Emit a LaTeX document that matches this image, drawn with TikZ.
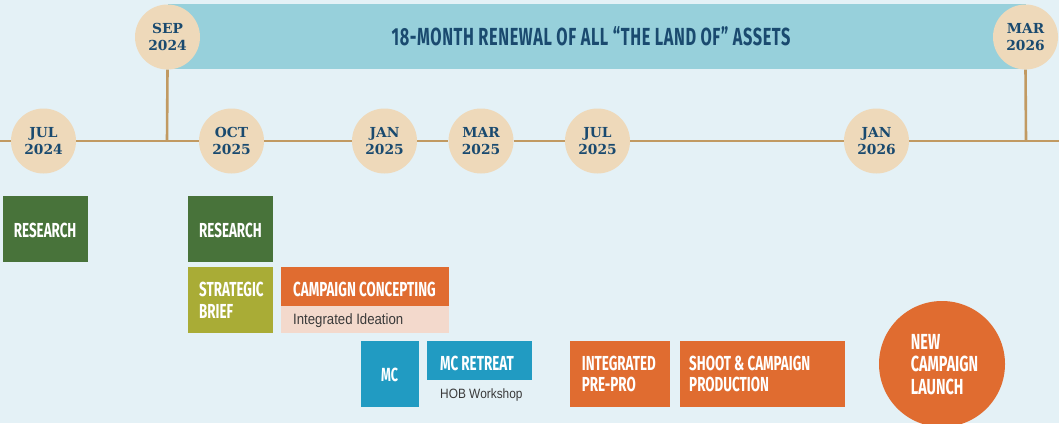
\documentclass[tikz,border=0pt]{standalone}
\usepackage{fontspec}
\newfontfamily\slabfont{DejaVu Serif}
\newfontfamily\headfont{Fira Sans}[FakeStretch=0.66]
\newfontfamily\bannerfont{Fira Sans}[FakeStretch=0.66, LetterSpace=2.5]
\newfontfamily\notefont{Liberation Sans}[FakeStretch=0.88]
\definecolor{bgblue}{HTML}{E4F1F6}
\definecolor{bannerblue}{HTML}{97D0DB}
\definecolor{navy}{HTML}{1A4A6F}
\definecolor{beige}{HTML}{EED9BA}
\definecolor{tan}{HTML}{C19A62}
\definecolor{leaf}{HTML}{48733A}
\definecolor{olive}{HTML}{A9AC36}
\definecolor{rust}{HTML}{E06C30}
\definecolor{blush}{HTML}{F3D9CC}
\definecolor{sky}{HTML}{219BC2}
\definecolor{ink}{HTML}{3A3A3A}
\tikzset{
  datecircle/.style={circle, fill=beige, minimum size=65pt, inner sep=0pt,
    text=navy, align=center, font={\slabfont\bfseries\fontsize{13.8}{16.8}\selectfont}},
  tline/.style={draw=tan, line width=2.6pt},
  taskbox/.style={rectangle, anchor=north west, inner sep=0pt},
  tasktext/.style={anchor=west, inner sep=0pt, text=white, align=left,
    font={\headfont\bfseries\fontsize{20.3}{21.3}\selectfont}},
  notetext/.style={anchor=base west, inner sep=0pt, text=ink}
}
\begin{document}
\begin{tikzpicture}[x=1pt, y=-1pt]
\useasboundingbox (0,0) rectangle (1059,423);
\clip (0,0) rectangle (1059,423);
\fill[bgblue] (0,0) rectangle (1059,423);

% banner spanning the renewal period
\node[rectangle, fill=bannerblue, anchor=north west, minimum width=858.5pt,
  minimum height=65pt, inner sep=0pt] (banner) at (167.5,4) {};
\node[text=navy, inner sep=0pt, font={\bannerfont\bfseries\fontsize{24.7}{26}\selectfont}]
  (bannertitle) at (591,36.5) {18-MONTH RENEWAL OF ALL “THE LAND OF” ASSETS};

% timeline anchors
\coordinate (lstart) at (0,141);
\coordinate (lend) at (1059,141);
\coordinate (jsep) at (167,141);
\coordinate (jmar) at (1026,141);

% date markers
\node[datecircle] (sep24) at (167.5,37) {SEP\\2024};
\node[datecircle] (mar26) at (1025.5,37) {MAR\\2026};
\node[datecircle] (jul24) at (43.5,141) {JUL\\2024};
\node[datecircle] (oct25) at (231.5,141) {OCT\\2025};
\node[datecircle] (jan25) at (384.5,141) {JAN\\2025};
\node[datecircle] (mar25) at (481,141) {MAR\\2025};
\node[datecircle] (jul25) at (597.5,141) {JUL\\2025};
\node[datecircle] (jan26) at (876.5,141) {JAN\\2026};

% timeline segments
\draw[tline] (lstart) -- (jul24.west);
\draw[tline] (jul24.east) -- (oct25.west);
\draw[tline] (oct25.east) -- (jan25.west);
\draw[tline] (jan25.east) -- (mar25.west);
\draw[tline] (mar25.east) -- (jul25.west);
\draw[tline] (jul25.east) -- (jan26.west);
\draw[tline] (jan26.east) -- (lend);
\draw[tline] (sep24.south) -- (jsep);
\draw[tline] (mar26.south) -- (jmar);

% task boxes
\node[taskbox, fill=leaf, minimum width=85pt, minimum height=66pt] (res1) at (3,196) {};
\node[tasktext] (res1t) at (13.7,230.5) {RESEARCH};

\node[taskbox, fill=leaf, minimum width=85pt, minimum height=66pt] (res2) at (188,196) {};
\node[tasktext] (res2t) at (199,230.5) {RESEARCH};

\node[taskbox, fill=olive, minimum width=85pt, minimum height=66pt] (brief) at (188,267) {};
\node[tasktext] (brieft) at (199,300.3) {STRATEGIC\\BRIEF};

\node[taskbox, fill=rust, minimum width=168pt, minimum height=39pt] (concept) at (281,267) {};
\node[taskbox, fill=blush, minimum width=168pt, minimum height=26.7pt] (ideation) at (281,306) {};
\node[tasktext] (conceptt) at (293,289.7) {CAMPAIGN CONCEPTING};
\node[notetext, font={\notefont\fontsize{15}{17}\selectfont}] (ideationt) at (293,324) {Integrated Ideation};

\node[taskbox, fill=sky, minimum width=58pt, minimum height=66pt] (mc) at (361,341) {};
\node[tasktext, anchor=center, font={\headfont\bfseries\fontsize{19}{20}\selectfont}] (mct) at (389.5,375) {MC};

\node[taskbox, fill=sky, minimum width=105pt, minimum height=39pt] (retreat) at (427,341) {};
\node[tasktext] (retreatt) at (440,363) {MC RETREAT};
\node[notetext, font={\notefont\fontsize{13.5}{15}\selectfont}] (hobt) at (440,398) {HOB Workshop};

\node[taskbox, fill=rust, minimum width=100pt, minimum height=66pt] (prepro) at (570,341) {};
\node[tasktext] (preprot) at (581.7,374) {INTEGRATED\\PRE-PRO};

\node[taskbox, fill=rust, minimum width=165pt, minimum height=66pt] (shoot) at (680,341) {};
\node[tasktext] (shoott) at (689,374) {SHOOT \& CAMPAIGN\\PRODUCTION};

% launch marker
\node[circle, fill=rust, minimum size=126pt, inner sep=0pt] (launch) at (942,364) {};
\node[tasktext, font={\headfont\bfseries\fontsize{21.8}{22.5}\selectfont}] (launcht) at (910.7,364.5) {NEW\\CAMPAIGN\\LAUNCH};
\end{tikzpicture}
\end{document}
